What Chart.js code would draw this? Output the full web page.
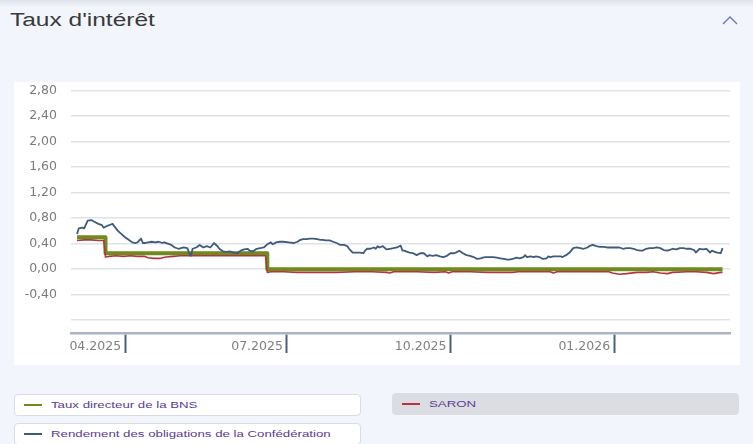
<!DOCTYPE html>
<html lang="fr">
<head>
<meta charset="utf-8">
<title>Taux d'intérêt</title>
<script src="https://cdn.jsdelivr.net/npm/chart.js@4.4.1/dist/chart.umd.min.js"></script>
<style>
  html, body { margin: 0; padding: 0; }
  body {
    width: 753px; height: 444px; overflow: hidden; position: relative;
    background: #f2f6fc; font-family: "Liberation Sans", Arial, sans-serif;
  }
  .top-shade {
    position: absolute; left: 0; top: 0; width: 753px; height: 7px;
    background: linear-gradient(#dde1e8, rgba(242, 246, 252, 0));
  }
  .title {
    position: absolute; left: 10px; top: 10px; line-height: 20px;
    font-size: 18px; color: #3a3a3a;
    transform: scaleX(1.36); transform-origin: left center; white-space: nowrap;
  }
  .chevron { position: absolute; left: 720px; top: 13px; }
  .panel {
    position: absolute; left: 14px; top: 82px; width: 726px; height: 283px;
    background: #fff;
  }
  #rates { position: absolute; left: 14px; top: 69px; }
  .item {
    position: absolute; width: 345px; height: 20px;
    border: 1px solid #d8dce3; border-radius: 4px; background: #fff;
  }
  .item.off { background: #dcdde3; border-color: #dcdde3; }
  .item .mark {
    position: absolute; left: 9px; top: 9px; width: 18px; height: 2px;
  }
  .item .txt {
    position: absolute; left: 36px; top: 0; line-height: 20px;
    font-size: 9.6px; color: #5a3b92; white-space: nowrap;
    transform: scaleX(1.38); transform-origin: left center;
  }
</style>
</head>
<body>
<div class="top-shade"></div>
<div class="title">Taux d'intérêt</div>
<svg class="chevron" width="20" height="14">
  <polyline points="3,11 10,4 17,11" fill="none" stroke="#6a70c2" stroke-width="1.3"/>
</svg>
<div class="panel"></div>
<canvas id="rates" width="726" height="296"></canvas>

<div class="item" style="left:14px; top:394px;">
  <span class="mark" style="background:#6f8a1e"></span><span class="txt">Taux directeur de la BNS</span>
</div>
<div class="item off" style="left:392px; top:393px;">
  <span class="mark" style="background:#b3363c"></span><span class="txt">SARON</span>
</div>
<div class="item" style="left:14px; top:423px;">
  <span class="mark" style="background:#3f5a7f"></span><span class="txt">Rendement des obligations de la Confédération</span>
</div>

<script>
// x values are day numbers counted from 1 March 2025
const xTickDays = [31, 122, 214, 306];
const xTickLabels = ['04.2025', '07.2025', '10.2025', '01.2026'];
const yTickValues = [-0.8, -0.4, 0, 0.4, 0.8, 1.2, 1.6, 2.0, 2.4, 2.8];

// Taux directeur de la BNS (step changes)
const bnsDays = [4, 20, 111, 367];
const bnsRate = [0.50, 0.25, 0.00, 0.00];

// SARON
const saronDays = [4, 8, 12, 16, 19, 20, 22, 26, 30, 34, 38, 42, 44, 47, 51, 54, 58, 62, 70, 80,
  90, 100, 110, 111, 113, 120, 128, 140, 150, 160, 170, 178, 180, 182, 195, 205, 211, 213, 215, 225,
  235, 249, 252, 270, 272, 274, 290, 303, 305, 309, 313, 319, 324, 328, 332, 336, 339, 347, 352, 358,
  362, 366, 367];
const saronRate = [0.45, 0.46, 0.46, 0.45, 0.45, 0.19, 0.20, 0.21, 0.20, 0.21, 0.20, 0.20, 0.18, 0.17, 0.17, 0.19, 0.20, 0.21, 0.21, 0.21,
  0.21, 0.21, 0.21, -0.05, -0.04, -0.04, -0.05, -0.05, -0.05, -0.04, -0.04, -0.05, -0.06, -0.04, -0.04, -0.05, -0.04, -0.06, -0.04, -0.04,
  -0.05, -0.05, -0.04, -0.04, -0.06, -0.04, -0.04, -0.04, -0.06, -0.08, -0.07, -0.05, -0.05, -0.04, -0.06, -0.07, -0.05, -0.04, -0.04, -0.05,
  -0.07, -0.05, -0.05];

// Rendement des obligations de la Confédération
const bondDays = [4, 5, 7, 8, 10, 12, 14, 16, 18, 19, 21, 23, 24, 25, 27, 29, 31, 33, 35, 37,
  38, 40, 41, 42, 44, 46, 48, 50, 52, 53, 55, 57, 59, 61, 64, 66, 67, 68, 69, 71,
  73, 75, 77, 79, 81, 83, 84, 86, 88, 90, 92, 94, 96, 98, 100, 101, 103, 105, 107, 109,
  111, 113, 114, 116, 118, 120, 123, 126, 128, 129, 131, 133, 135, 137, 139, 141, 142, 144, 146, 148,
  150, 152, 154, 156, 157, 159, 161, 163, 165, 166, 167, 169, 171, 172, 173, 174, 176, 178, 180, 182,
  184, 186, 187, 188, 189, 191, 193, 195, 197, 199, 201, 202, 204, 206, 208, 210, 212, 214, 216, 217,
  219, 221, 223, 225, 227, 229, 231, 232, 234, 236, 238, 240, 242, 244, 246, 247, 249, 251, 253, 255,
  256, 257, 259, 261, 262, 264, 266, 268, 269, 270, 272, 274, 276, 277, 279, 281, 283, 285, 287, 289,
  291, 292, 294, 296, 298, 300, 302, 304, 308, 309, 311, 313, 315, 317, 319, 321, 322, 324, 326, 328,
  330, 332, 334, 336, 337, 339, 341, 343, 345, 347, 349, 351, 352, 354, 356, 358, 360, 361, 362, 364,
  366, 367];
const bondYield = [0.55, 0.64, 0.65, 0.64, 0.76, 0.77, 0.74, 0.71, 0.69, 0.65, 0.68, 0.70, 0.71, 0.67, 0.60, 0.55, 0.50, 0.46, 0.42, 0.41,
  0.42, 0.48, 0.41, 0.41, 0.42, 0.43, 0.42, 0.43, 0.41, 0.42, 0.40, 0.38, 0.34, 0.32, 0.34, 0.33, 0.26, 0.21, 0.32, 0.34,
  0.38, 0.34, 0.36, 0.34, 0.41, 0.36, 0.32, 0.28, 0.27, 0.28, 0.26, 0.25, 0.29, 0.31, 0.32, 0.29, 0.28, 0.32, 0.33, 0.34,
  0.39, 0.42, 0.39, 0.42, 0.43, 0.43, 0.42, 0.41, 0.43, 0.45, 0.47, 0.47, 0.48, 0.48, 0.47, 0.46, 0.46, 0.45, 0.45, 0.43,
  0.41, 0.38, 0.38, 0.36, 0.32, 0.26, 0.26, 0.26, 0.25, 0.29, 0.32, 0.32, 0.34, 0.32, 0.36, 0.34, 0.36, 0.31, 0.32, 0.33,
  0.34, 0.37, 0.29, 0.29, 0.28, 0.26, 0.25, 0.22, 0.25, 0.25, 0.20, 0.22, 0.21, 0.22, 0.20, 0.19, 0.21, 0.25, 0.25, 0.26,
  0.29, 0.25, 0.22, 0.21, 0.19, 0.16, 0.17, 0.18, 0.19, 0.19, 0.19, 0.18, 0.17, 0.16, 0.15, 0.15, 0.16, 0.18, 0.17, 0.19,
  0.22, 0.19, 0.20, 0.19, 0.20, 0.19, 0.16, 0.17, 0.20, 0.19, 0.20, 0.20, 0.20, 0.19, 0.22, 0.26, 0.33, 0.34, 0.33, 0.32,
  0.34, 0.36, 0.38, 0.36, 0.35, 0.35, 0.34, 0.34, 0.34, 0.34, 0.32, 0.33, 0.33, 0.32, 0.30, 0.29, 0.29, 0.32, 0.33, 0.33,
  0.34, 0.33, 0.30, 0.29, 0.30, 0.32, 0.31, 0.33, 0.33, 0.32, 0.32, 0.30, 0.26, 0.32, 0.31, 0.32, 0.26, 0.29, 0.28, 0.26,
  0.25, 0.33];

const toPoints = (xs, ys) => xs.map((x, i) => ({ x: x, y: ys[i] }));
const tickFont = { family: 'DejaVu Sans', size: 12.5 };

new Chart(document.getElementById('rates'), {
  type: 'line',
  data: {
    datasets: [
      {
        label: 'Rendement des obligations de la Confédération',
        data: toPoints(bondDays, bondYield),
        borderColor: '#3f5a7f',
        borderWidth: 1.8
      },
      {
        label: 'SARON',
        data: toPoints(saronDays, saronRate),
        borderColor: '#b3363c',
        borderWidth: 1.6
      },
      {
        label: 'Taux directeur de la BNS',
        data: toPoints(bnsDays, bnsRate),
        borderColor: '#6f8a1e',
        borderWidth: 4,
        stepped: 'before'
      }
    ]
  },
  options: {
    responsive: false,
    animation: false,
    elements: {
      point: { radius: 0 },
      line: { tension: 0, fill: false, borderJoinStyle: 'round' }
    },
    layout: { padding: { top: 0, right: 10, bottom: 0, left: 0 } },
    plugins: {
      legend: { display: false },
      tooltip: { enabled: false }
    },
    scales: {
      x: {
        type: 'linear',
        min: 0.6,
        max: 371.2,
        afterBuildTicks: (scale) => { scale.ticks = xTickDays.map(v => ({ value: v })); },
        afterFit: (scale) => { scale.height = 32; },
        grid: { drawOnChartArea: false, drawTicks: true, tickLength: 20, tickColor: '#4b5e7b', tickWidth: 2 },
        border: { display: true, color: '#a9b4c5', width: 2.5 },
        ticks: {
          autoSkip: false,
          maxRotation: 0,
          align: 'end',
          padding: -14,
          color: '#808080',
          font: tickFont,
          callback: (v) => {
            const i = xTickDays.indexOf(v);
            return i < 0 ? '' : xTickLabels[i] + ' ';
          }
        }
      },
      y: {
        min: -1.0,
        max: 2.8,
        afterBuildTicks: (scale) => { scale.ticks = yTickValues.map(v => ({ value: v })); },
        afterFit: (scale) => { scale.width = 57; },
        grid: { color: '#dfe2e8', lineWidth: 1.5, drawTicks: false },
        border: { display: false },
        ticks: {
          padding: 14,
          color: '#7b7b7b',
          font: tickFont,
          callback: (v) => v === -0.8 ? '' : v.toFixed(2).replace('.', ',')
        }
      }
    }
  }
});
</script>
</body>
</html>
